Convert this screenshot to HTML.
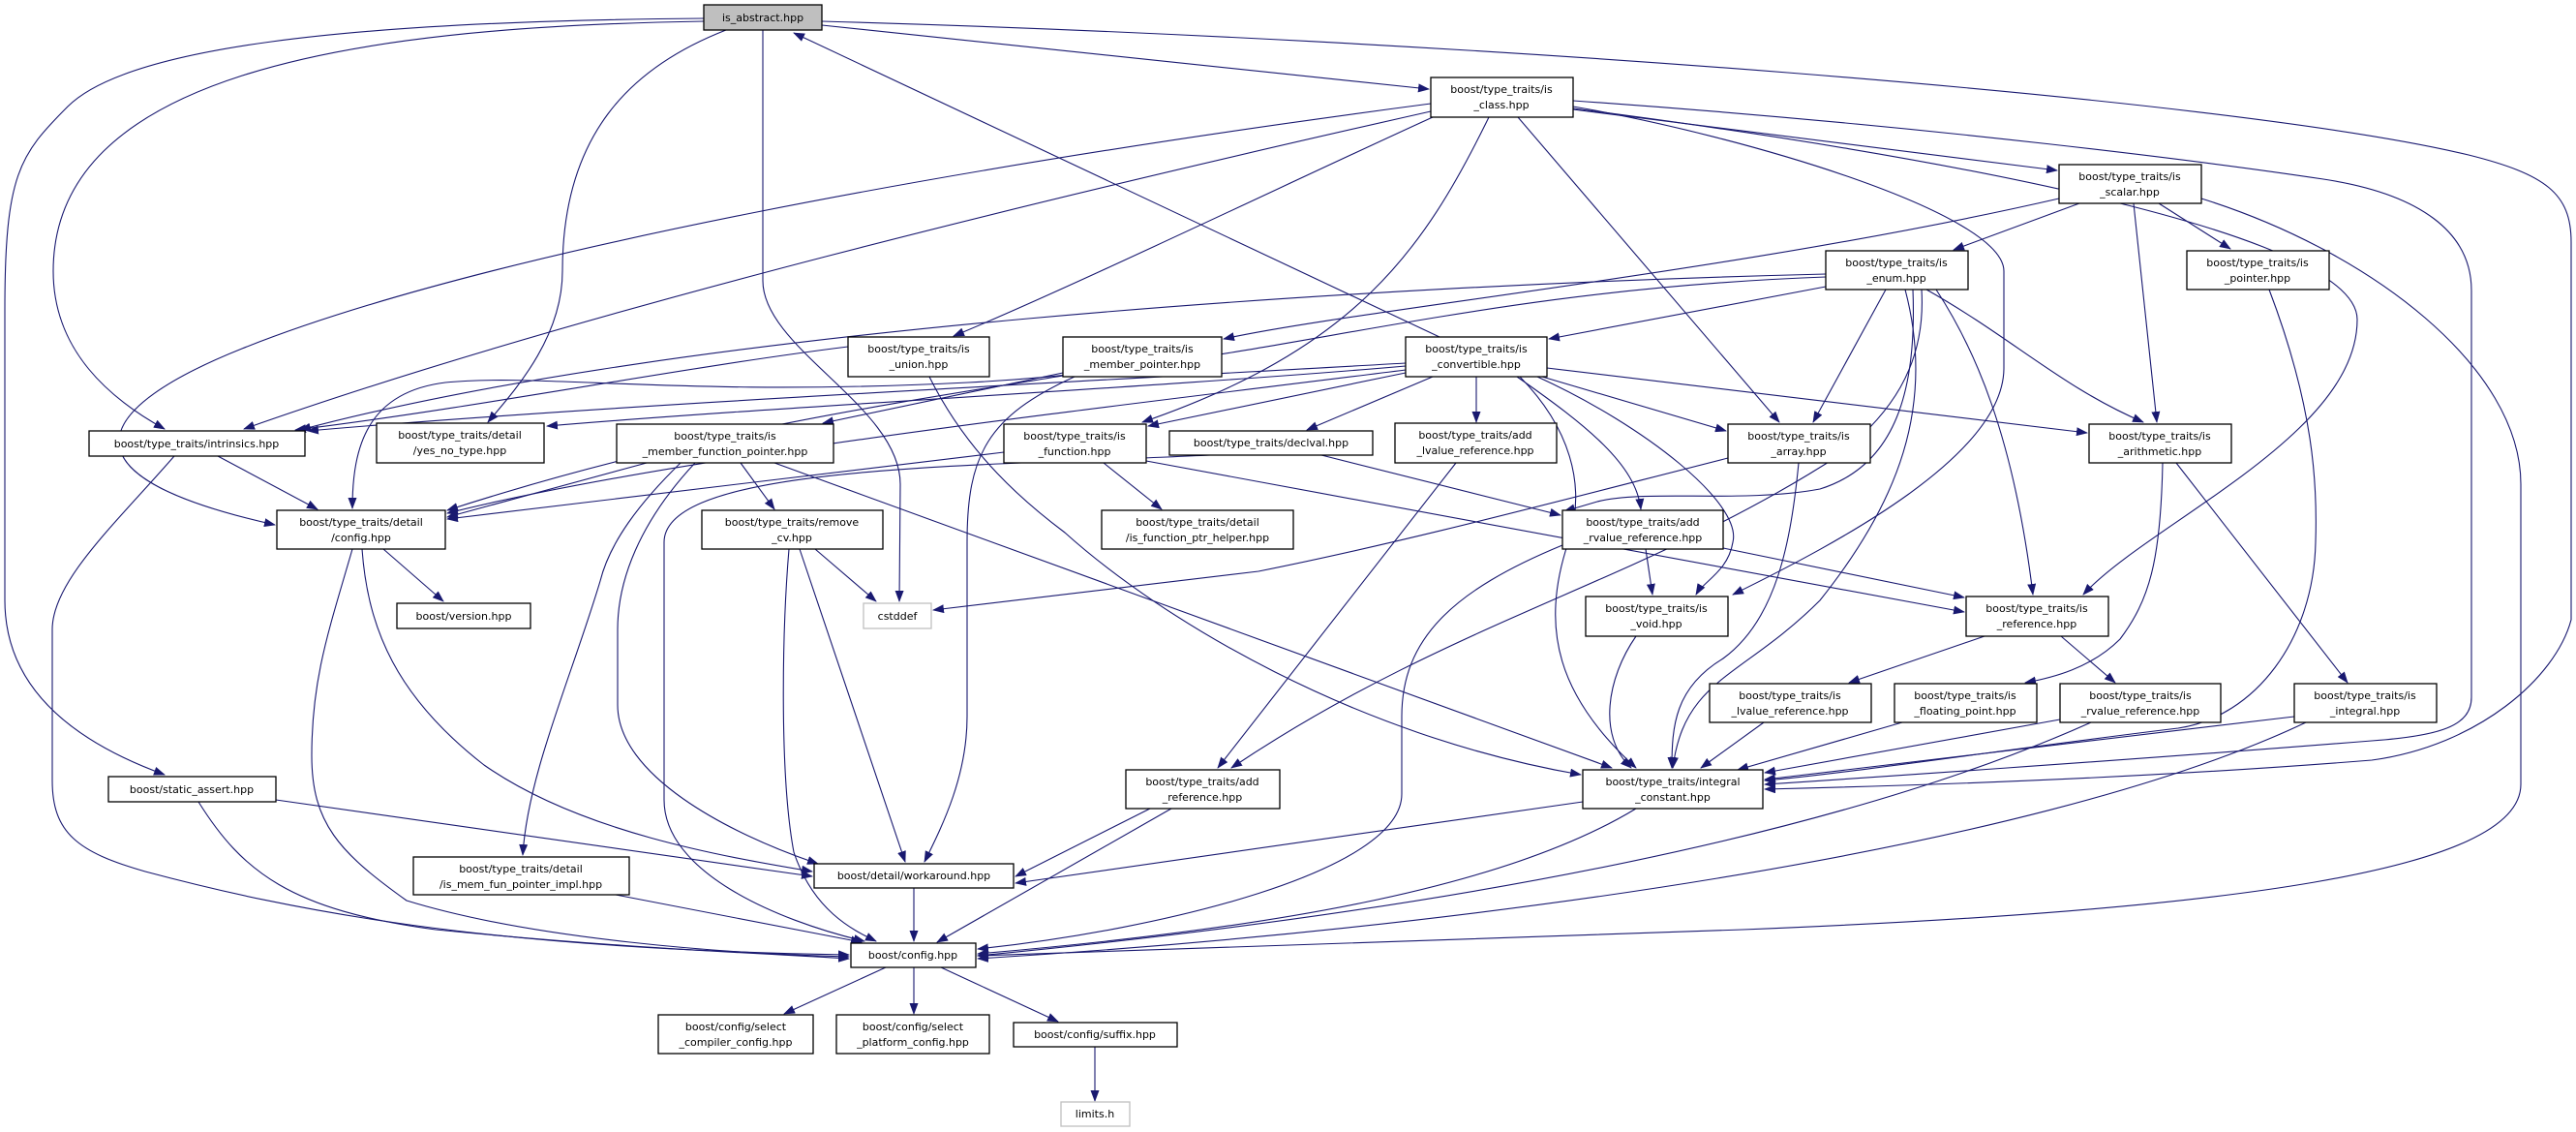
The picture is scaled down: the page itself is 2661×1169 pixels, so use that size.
<!DOCTYPE html>
<html><head><meta charset="utf-8"><style>
html,body{margin:0;padding:0;background:#fff;}
svg{display:block;}
text{font-family:"DejaVu Sans","Liberation Sans",sans-serif;font-size:11px;fill:#000;}
.e{fill:none;stroke:#191970;stroke-width:1.1;}
.n{fill:#fff;stroke:#000;stroke-width:1.3;}
</style></head><body>
<svg width="2661" height="1169" viewBox="0 0 2661 1169" xmlns="http://www.w3.org/2000/svg">
<defs>
<marker id="a" markerWidth="12" markerHeight="9" refX="11" refY="4.5" orient="auto" markerUnits="userSpaceOnUse">
<polygon points="0,0 12,4.5 0,9" fill="#191970"/>
</marker>
</defs>
<g marker-end="url(#a)">
<path class="e" d="M727,19 C350,22 130,50 70,110 C20,160 5,180 5,320 L5,620 C5,700 60,760 170,800"/>
<path class="e" d="M727,22 C350,28 55,80 55,280 C55,360 110,410 170,443"/>
<path class="e" d="M750,31 C650,70 581,140 581,280 C581,350 530,405 504,436"/>
<path class="e" d="M788,31 L788,290 C788,360 930,420 930,500 L929,621"/>
<path class="e" d="M849,26 L1476,92"/>
<path class="e" d="M849,22 C1500,40 2300,100 2550,160 C2630,180 2656,200 2656,250 L2656,640 C2640,700 2560,770 2450,785 C2200,805 1950,812 1823,815"/>
<path class="e" d="M1478,115 C1100,200 600,320 252,443"/>
<path class="e" d="M1478,107 C1000,170 500,260 250,360 C100,420 50,490 284,542"/>
<path class="e" d="M1480,121 C1350,180 1100,300 985,347"/>
<path class="e" d="M1538,121 C1470,260 1400,360 1180,436"/>
<path class="e" d="M1568,121 L1838,436"/>
<path class="e" d="M1625,110 C1800,140 2070,220 2070,280 L2070,380 C2070,470 1900,560 1790,614"/>
<path class="e" d="M1625,112 C2000,160 2435,240 2435,330 C2435,450 2220,540 2152,614"/>
<path class="e" d="M1625,113 L2125,176"/>
<path class="e" d="M1625,104 C2000,130 2300,170 2400,185 C2500,200 2553,240 2553,300 L2553,720 C2553,750 2520,760 2450,765 C2200,785 1900,805 1823,810"/>
<path class="e" d="M2127,205 C1800,280 1400,320 1264,350"/>
<path class="e" d="M2148,210 L2018,258"/>
<path class="e" d="M2204,210 L2228,436"/>
<path class="e" d="M2230,210 L2304,257"/>
<path class="e" d="M2274,205 C2450,260 2604,380 2604,500 L2604,810 C2604,900 2300,940 1800,960 C1400,975 1100,985 1010,987"/>
<path class="e" d="M1886,283 C1400,295 700,340 310,444"/>
<path class="e" d="M1886,286 C1500,300 1300,380 1000,395 C700,410 560,385 460,395 C380,405 364,460 364,525"/>
<path class="e" d="M1886,296 L1600,350"/>
<path class="e" d="M1948,299 L1873,436"/>
<path class="e" d="M1990,299 C2080,350 2130,400 2214,436"/>
<path class="e" d="M2000,299 C2040,360 2080,450 2100,614"/>
<path class="e" d="M1968,299 C2000,420 1960,520 1880,620 C1800,700 1740,700 1728,793"/>
<path class="e" d="M1976,299 C1980,400 1960,480 1880,505 C1800,520 1700,505 1650,518 L1616,528"/>
<path class="e" d="M1985,299 C1990,380 1950,430 1900,470 C1700,600 1500,640 1272,793"/>
<path class="e" d="M2344,299 C2390,420 2394,500 2392,560 C2390,660 2330,740 2250,752 C2100,770 1900,800 1823,806"/>
<path class="e" d="M876,358 C700,380 500,420 305,444"/>
<path class="e" d="M960,389 C1000,470 1060,520 1100,550 C1200,640 1400,760 1633,800"/>
<path class="e" d="M1098,388 C900,420 700,450 462,527"/>
<path class="e" d="M1110,389 C1020,430 999,470 999,560 L999,740 C999,800 975,850 955,890"/>
<path class="e" d="M1098,385 L850,437"/>
<path class="e" d="M1487,348 L820,34"/>
<path class="e" d="M1452,375 C1100,395 600,420 318,445"/>
<path class="e" d="M1452,378 C1200,400 800,420 565,440"/>
<path class="e" d="M1452,382 C1150,420 700,470 462,530"/>
<path class="e" d="M1452,385 L1186,440"/>
<path class="e" d="M1480,389 L1350,444"/>
<path class="e" d="M1525,389 L1525,436"/>
<path class="e" d="M1593,389 L1783,445"/>
<path class="e" d="M1598,380 L2156,447"/>
<path class="e" d="M1567,389 C1640,440 1690,480 1695,526"/>
<path class="e" d="M1588,389 C1700,440 1800,520 1790,560 C1785,590 1760,600 1752,614"/>
<path class="e" d="M1570,389 C1620,440 1640,500 1620,560 C1590,650 1610,720 1690,793"/>
<path class="e" d="M225,471 L328,526"/>
<path class="e" d="M180,471 C120,540 54,600 54,650 L54,806 C54,860 80,880 150,900 C300,940 500,980 877,986"/>
<path class="e" d="M668,478 L462,534"/>
<path class="e" d="M703,478 C660,520 630,560 620,600 C590,700 545,800 540,883"/>
<path class="e" d="M718,478 C660,540 638,600 638,650 L638,728 C638,800 750,860 845,892"/>
<path class="e" d="M765,478 L800,526"/>
<path class="e" d="M800,478 L1665,793"/>
<path class="e" d="M1250,470 C1000,482 686,480 686,560 L686,826 C686,900 800,950 893,972"/>
<path class="e" d="M1037,467 L462,536"/>
<path class="e" d="M1140,478 L1200,526"/>
<path class="e" d="M1184,476 L2029,632"/>
<path class="e" d="M1365,470 L1612,532"/>
<path class="e" d="M1504,478 L1258,793"/>
<path class="e" d="M1785,473 C1600,520 1450,560 1300,590 L964,630"/>
<path class="e" d="M1858,478 C1850,560 1835,640 1780,680 C1730,710 1727,750 1727,793"/>
<path class="e" d="M2234,478 C2232,580 2220,620 2190,660 C2160,690 2120,700 2092,705"/>
<path class="e" d="M2248,478 L2425,705"/>
<path class="e" d="M396,567 L458,621"/>
<path class="e" d="M364,567 C340,650 322,700 322,780 C322,850 350,880 420,930 C550,970 750,985 877,988"/>
<path class="e" d="M374,567 C380,650 410,720 500,790 C600,860 750,885 839,900"/>
<path class="e" d="M842,567 L905,621"/>
<path class="e" d="M826,567 L935,890"/>
<path class="e" d="M815,567 C808,650 805,800 820,880 C840,940 880,960 905,972"/>
<path class="e" d="M1700,567 L1707,614"/>
<path class="e" d="M1780,566 L2029,617"/>
<path class="e" d="M1614,563 C1500,610 1448,660 1448,740 L1448,820 C1448,900 1200,960 1010,980"/>
<path class="e" d="M1690,657 C1660,700 1650,760 1685,793"/>
<path class="e" d="M2050,657 L1910,705"/>
<path class="e" d="M2129,657 L2185,705"/>
<path class="e" d="M1822,746 L1757,793"/>
<path class="e" d="M1965,746 L1795,795"/>
<path class="e" d="M2128,743 L1823,798"/>
<path class="e" d="M2160,746 C1950,840 1600,930 1010,987"/>
<path class="e" d="M2370,740 L1823,805"/>
<path class="e" d="M2382,746 C2100,880 1500,960 1010,990"/>
<path class="e" d="M1188,835 L1049,905"/>
<path class="e" d="M1210,835 L968,973"/>
<path class="e" d="M1635,828 L1049,912"/>
<path class="e" d="M1690,835 C1550,920 1300,960 1010,985"/>
<path class="e" d="M285,826 L839,905"/>
<path class="e" d="M205,828 C250,900 300,940 450,960 C650,980 800,985 877,990"/>
<path class="e" d="M636,924 L890,973"/>
<path class="e" d="M944,917 L944,972"/>
<path class="e" d="M915,999 L810,1047"/>
<path class="e" d="M944,999 L944,1047"/>
<path class="e" d="M972,999 L1093,1055"/>
<path class="e" d="M1131,1081 L1131,1137"/>
</g>

<rect x="727" y="5" width="122" height="26" fill="#bfbfbf" stroke="#000" stroke-width="1.3"/><text x="788" y="22" text-anchor="middle">is_abstract.hpp</text>

<rect class="n" x="1478" y="80" width="147" height="41"/><text x="1551" y="96" text-anchor="middle">boost/type_traits/is</text><text x="1551" y="112" text-anchor="middle">_class.hpp</text>
<rect class="n" x="2127" y="170" width="147" height="40"/><text x="2200" y="186" text-anchor="middle">boost/type_traits/is</text><text x="2200" y="202" text-anchor="middle">_scalar.hpp</text>
<rect class="n" x="1886" y="259" width="147" height="40"/><text x="1959" y="275" text-anchor="middle">boost/type_traits/is</text><text x="1959" y="291" text-anchor="middle">_enum.hpp</text>
<rect class="n" x="2259" y="259" width="147" height="40"/><text x="2332" y="275" text-anchor="middle">boost/type_traits/is</text><text x="2332" y="291" text-anchor="middle">_pointer.hpp</text>
<rect class="n" x="876" y="348" width="146" height="41"/><text x="949" y="364" text-anchor="middle">boost/type_traits/is</text><text x="949" y="380" text-anchor="middle">_union.hpp</text>
<rect class="n" x="1098" y="348" width="164" height="41"/><text x="1180" y="364" text-anchor="middle">boost/type_traits/is</text><text x="1180" y="380" text-anchor="middle">_member_pointer.hpp</text>
<rect class="n" x="1452" y="348" width="146" height="41"/><text x="1525" y="364" text-anchor="middle">boost/type_traits/is</text><text x="1525" y="380" text-anchor="middle">_convertible.hpp</text>
<rect class="n" x="92" y="445" width="223" height="26"/><text x="203" y="462" text-anchor="middle">boost/type_traits/intrinsics.hpp</text>
<rect class="n" x="389" y="437" width="173" height="41"/><text x="475" y="453" text-anchor="middle">boost/type_traits/detail</text><text x="475" y="469" text-anchor="middle">/yes_no_type.hpp</text>
<rect class="n" x="637" y="438" width="224" height="40"/><text x="749" y="454" text-anchor="middle">boost/type_traits/is</text><text x="749" y="470" text-anchor="middle">_member_function_pointer.hpp</text>
<rect class="n" x="1037" y="438" width="147" height="40"/><text x="1110" y="454" text-anchor="middle">boost/type_traits/is</text><text x="1110" y="470" text-anchor="middle">_function.hpp</text>
<rect class="n" x="1208" y="445" width="210" height="25"/><text x="1313" y="461" text-anchor="middle">boost/type_traits/declval.hpp</text>
<rect class="n" x="1441" y="437" width="167" height="41"/><text x="1524" y="453" text-anchor="middle">boost/type_traits/add</text><text x="1524" y="469" text-anchor="middle">_lvalue_reference.hpp</text>
<rect class="n" x="1785" y="438" width="147" height="40"/><text x="1858" y="454" text-anchor="middle">boost/type_traits/is</text><text x="1858" y="470" text-anchor="middle">_array.hpp</text>
<rect class="n" x="2158" y="438" width="147" height="40"/><text x="2231" y="454" text-anchor="middle">boost/type_traits/is</text><text x="2231" y="470" text-anchor="middle">_arithmetic.hpp</text>
<rect class="n" x="286" y="527" width="174" height="40"/><text x="373" y="543" text-anchor="middle">boost/type_traits/detail</text><text x="373" y="559" text-anchor="middle">/config.hpp</text>
<rect class="n" x="725" y="527" width="187" height="40"/><text x="818" y="543" text-anchor="middle">boost/type_traits/remove</text><text x="818" y="559" text-anchor="middle">_cv.hpp</text>
<rect class="n" x="1138" y="527" width="198" height="40"/><text x="1237" y="543" text-anchor="middle">boost/type_traits/detail</text><text x="1237" y="559" text-anchor="middle">/is_function_ptr_helper.hpp</text>
<rect class="n" x="1614" y="527" width="166" height="40"/><text x="1697" y="543" text-anchor="middle">boost/type_traits/add</text><text x="1697" y="559" text-anchor="middle">_rvalue_reference.hpp</text>
<rect class="n" x="410" y="623" width="138" height="26"/><text x="479" y="640" text-anchor="middle">boost/version.hpp</text>
<rect x="892" y="623" width="70" height="26" fill="#fff" stroke="#bfbfbf" stroke-width="1.3"/><text x="927" y="640" text-anchor="middle">cstddef</text>
<rect class="n" x="1638" y="616" width="147" height="41"/><text x="1711" y="632" text-anchor="middle">boost/type_traits/is</text><text x="1711" y="648" text-anchor="middle">_void.hpp</text>
<rect class="n" x="2031" y="616" width="147" height="41"/><text x="2104" y="632" text-anchor="middle">boost/type_traits/is</text><text x="2104" y="648" text-anchor="middle">_reference.hpp</text>
<rect class="n" x="1766" y="706" width="167" height="40"/><text x="1849" y="722" text-anchor="middle">boost/type_traits/is</text><text x="1849" y="738" text-anchor="middle">_lvalue_reference.hpp</text>
<rect class="n" x="1957" y="706" width="147" height="40"/><text x="2030" y="722" text-anchor="middle">boost/type_traits/is</text><text x="2030" y="738" text-anchor="middle">_floating_point.hpp</text>
<rect class="n" x="2128" y="706" width="166" height="40"/><text x="2211" y="722" text-anchor="middle">boost/type_traits/is</text><text x="2211" y="738" text-anchor="middle">_rvalue_reference.hpp</text>
<rect class="n" x="2370" y="706" width="147" height="40"/><text x="2443" y="722" text-anchor="middle">boost/type_traits/is</text><text x="2443" y="738" text-anchor="middle">_integral.hpp</text>
<rect class="n" x="1163" y="795" width="159" height="40"/><text x="1242" y="811" text-anchor="middle">boost/type_traits/add</text><text x="1242" y="827" text-anchor="middle">_reference.hpp</text>
<rect class="n" x="1635" y="795" width="186" height="40"/><text x="1728" y="811" text-anchor="middle">boost/type_traits/integral</text><text x="1728" y="827" text-anchor="middle">_constant.hpp</text>
<rect class="n" x="112" y="802" width="173" height="26"/><text x="198" y="819" text-anchor="middle">boost/static_assert.hpp</text>
<rect class="n" x="427" y="885" width="223" height="39"/><text x="538" y="901" text-anchor="middle">boost/type_traits/detail</text><text x="538" y="917" text-anchor="middle">/is_mem_fun_pointer_impl.hpp</text>
<rect class="n" x="841" y="892" width="206" height="25"/><text x="944" y="908" text-anchor="middle">boost/detail/workaround.hpp</text>
<rect class="n" x="879" y="974" width="129" height="25"/><text x="943" y="990" text-anchor="middle">boost/config.hpp</text>
<rect class="n" x="680" y="1048" width="160" height="40"/><text x="760" y="1064" text-anchor="middle">boost/config/select</text><text x="760" y="1080" text-anchor="middle">_compiler_config.hpp</text>
<rect class="n" x="864" y="1048" width="158" height="40"/><text x="943" y="1064" text-anchor="middle">boost/config/select</text><text x="943" y="1080" text-anchor="middle">_platform_config.hpp</text>
<rect class="n" x="1047" y="1056" width="169" height="25"/><text x="1131" y="1072" text-anchor="middle">boost/config/suffix.hpp</text>
<rect x="1096" y="1138" width="71" height="25" fill="#fff" stroke="#bfbfbf" stroke-width="1.3"/><text x="1131" y="1154" text-anchor="middle">limits.h</text>
</svg>
</body></html>
